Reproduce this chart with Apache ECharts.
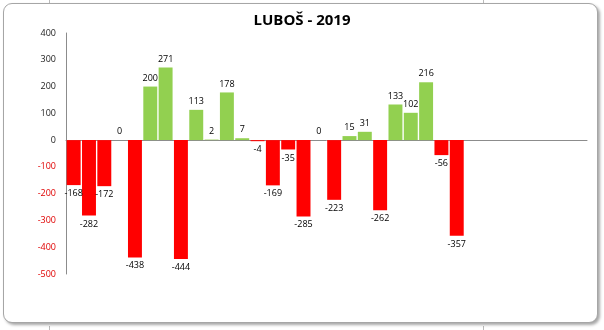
<!DOCTYPE html>
<html>
<head>
<meta charset="utf-8">
<script src="https://cdn.jsdelivr.net/npm/echarts@6/dist/echarts.min.js"></script>
<style>
html,body{margin:0;padding:0;background:#fff;}
#frame{position:absolute;left:3px;top:3px;width:593px;height:318px;border:1px solid #a6a6a6;border-radius:9px;box-shadow:2px 2px 3px rgba(0,0,0,0.35);background:#fff;}
#chart{position:absolute;left:0;top:0;width:604px;height:330px;}
.tk{position:absolute;width:1px;height:3px;background:#bbb;}
</style>
</head>
<body>
<div class="tk" style="left:49px;top:0"></div>
<div class="tk" style="left:483px;top:0"></div>
<div class="tk" style="left:49px;top:326px;height:4px"></div>
<div class="tk" style="left:483px;top:326px;height:4px"></div>
<div id="frame"></div>
<div id="chart"></div>
<script>
const titleText = 'LUBOŠ - 2019';
const categories = ['1','2','3','4','5','6','7','8','9','10','11','12','13','14','15','16','17','18','19','20','21','22','23','24','25','26','27','28','29','30','31','32','33','34'];
const values = [-168,-282,-172,0,-438,200,271,-444,113,2,178,7,-4,-169,-35,-285,0,-223,15,31,-262,133,102,216,-56,-357];
const yTicks = {min:-500, max:400, interval:100};
const posColor = '#92d050';
const negColor = '#ff0000';

const data = categories.map((c,i)=>{
  const v = i < values.length ? values[i] : null;
  if (v === null) return null;
  return {
    value: v,
    itemStyle: {color: v < 0 ? negColor : posColor},
    label: {position: v < 0 ? 'bottom' : 'top'}
  };
});

const chart = echarts.init(document.getElementById('chart'), null, {renderer:'canvas'});
chart.setOption({
  animation:false,
  backgroundColor:'transparent',
  title:{text:titleText,left:'center',top:8,textStyle:{fontFamily:'Open Sans',fontWeight:'bold',fontSize:15,color:'#000'}},
  grid:{left:66,right:17,top:33,bottom:56,containLabel:false},
  xAxis:{type:'category',data:categories,
    axisLine:{show:true,onZero:true,lineStyle:{color:'#8c8c8c',width:1}},
    axisTick:{show:false},axisLabel:{show:false},splitLine:{show:false}},
  yAxis:{type:'value',min:yTicks.min,max:yTicks.max,interval:yTicks.interval,
    axisLine:{show:true,lineStyle:{color:'#8c8c8c',width:1}},
    axisTick:{show:false},splitLine:{show:false},
    axisLabel:{margin:10,fontFamily:'Open Sans',fontSize:9,
      color:function(v){return Number(v)<0?'#e00000':'#222';}}},
  series:[{type:'bar',data:data,barCategoryGap:'9%',
    label:{show:true,distance:4,fontFamily:'Open Sans',fontSize:9,color:'#000'}}]
});
</script>
</body>
</html>
